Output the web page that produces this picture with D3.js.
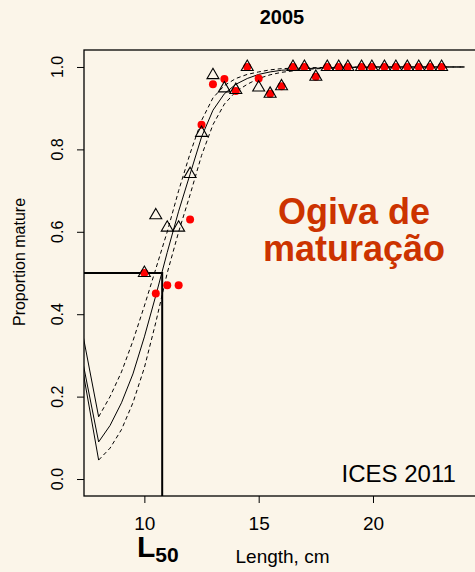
<!DOCTYPE html>
<html lang="pt">
<head>
<meta charset="utf-8">
<title>Ogiva de maturação 2005</title>
<script src="https://cdn.jsdelivr.net/npm/d3@7"></script>
<style>
  body { margin: 0; background: #fbf5e9; }
  text { font-family: "Liberation Sans", Arial, sans-serif; }
</style>
</head>
<body>
<script>
// observed proportions by length class (open triangles and red dots)
var triLen  = [10, 10.5, 11, 11.5, 12, 12.5, 13, 13.5, 14, 14.5, 15, 15.5, 16, 16.5, 17, 17.5, 18, 18.5, 18.9, 19.5, 19.95, 20.5, 21, 21.5, 22, 22.5, 23];
var triProp = [0.50, 0.64, 0.61, 0.61, 0.74, 0.84, 0.98, 0.948, 0.944, 1, 0.95, 0.935, 0.953, 1, 1, 0.976, 1, 1, 1, 1, 1, 1, 1, 1, 1, 1, 1];
var dotLen  = [10, 10.5, 11, 11.5, 12, 12.5, 13, 13.5, 14, 14.5, 15, 15.5, 16, 16.5, 17, 17.5, 18, 18.5, 18.9, 19.5, 19.95, 20.5, 21, 21.5, 22, 22.5, 23];
var dotProp = [0.50, 0.45, 0.47, 0.47, 0.63, 0.86, 0.958, 0.971, 0.942, 1, 0.972, 0.935, 0.953, 1, 1, 0.976, 1, 1, 1, 1, 1, 1, 1, 1, 1, 1, 1];

// fitted ogive and its confidence band
var fitLen = [7, 8, 8.5, 9, 9.5, 10, 10.5, 11, 11.5, 12, 12.5, 13, 13.5, 14, 14.5, 15, 15.5, 16, 17, 18, 19, 20, 21, 22, 23, 24];
var fitMid = [0.37, 0.09, 0.13, 0.185, 0.255, 0.345, 0.445, 0.55, 0.65, 0.74, 0.83, 0.895, 0.935, 0.958, 0.972, 0.982, 0.988, 0.992, 0.996, 0.998, 0.999, 1, 1, 1, 1, 1];
var fitUp  = [0.44, 0.151, 0.20, 0.26, 0.335, 0.42, 0.51, 0.60, 0.70, 0.79, 0.87, 0.925, 0.955, 0.972, 0.982, 0.988, 0.993, 0.996, 0.998, 0.999, 1, 1, 1, 1, 1, 1];
var fitLo  = [0.36, 0.046, 0.075, 0.12, 0.185, 0.27, 0.38, 0.50, 0.60, 0.69, 0.785, 0.86, 0.91, 0.94, 0.958, 0.972, 0.981, 0.987, 0.994, 0.997, 0.999, 0.9995, 1, 1, 1, 1];

var L50 = 10.78;
var xTicks = [10, 15, 20];
var yTicks = [0, 0.2, 0.4, 0.6, 0.8, 1.0];

var w = 475, h = 572;
var margin = {top: 50, left: 84, right: -5, bottom: 76};

var svg = d3.select("body").append("svg")
    .attr("width", w)
    .attr("height", h);

svg.append("rect").attr("width", w).attr("height", h).attr("fill", "#fbf5e9");

var x = d3.scaleLinear().domain([7.36, 24.68]).range([margin.left, w - margin.right]);
var y = d3.scaleLinear().domain([-0.0412, 1.0412]).range([h - margin.bottom, margin.top]);

svg.append("clipPath").attr("id", "plotclip")
  .append("rect")
    .attr("x", margin.left).attr("y", margin.top)
    .attr("width", w - margin.right - margin.left)
    .attr("height", h - margin.bottom - margin.top);

// title
svg.append("text")
    .attr("x", (margin.left + w - margin.right) / 2)
    .attr("y", 23.5)
    .attr("text-anchor", "middle")
    .attr("font-weight", "bold")
    .attr("font-size", 20)
    .text("2005");

// axes
var xaxis = d3.axisBottom(x).tickValues(xTicks).tickSize(7).tickPadding(14);
var gx = svg.append("g")
    .attr("transform", "translate(0," + (h - margin.bottom) + ")")
    .call(xaxis);
gx.select(".domain").remove();
gx.selectAll("text").attr("font-size", 19).attr("font-family", null).attr("fill", "#000");

var yaxis = d3.axisLeft(y).tickValues(yTicks).tickSize(7).tickFormat("");
var gy = svg.append("g")
    .attr("transform", "translate(" + margin.left + ",0)")
    .call(yaxis);
gy.select(".domain").remove();

svg.selectAll(".ylab")
    .data(yTicks)
    .enter().append("text")
    .attr("class", "ylab")
    .attr("transform", function(d) { return "translate(63," + y(d) + ") rotate(-90)"; })
    .attr("text-anchor", "middle")
    .attr("font-size", 16)
    .text(function(d) { return d3.format(".1f")(d); });

svg.append("text")
    .attr("transform", "translate(24.5,262) rotate(-90)")
    .attr("text-anchor", "middle")
    .attr("font-size", 16)
    .text("Proportion mature");

svg.append("text")
    .attr("x", 282.5)
    .attr("y", 563)
    .attr("text-anchor", "middle")
    .attr("font-size", 19)
    .text("Length, cm");

var l50 = svg.append("text")
    .attr("x", 137)
    .attr("y", 557)
    .attr("font-weight", "bold");
l50.append("tspan").attr("font-size", 30).text("L");
l50.append("tspan").attr("font-size", 21).attr("dy", 5).text("50");

// box
svg.append("rect")
    .attr("x", margin.left).attr("y", margin.top)
    .attr("width", w - margin.right - margin.left)
    .attr("height", h - margin.bottom - margin.top)
    .attr("fill", "none")
    .attr("stroke", "#000")
    .attr("stroke-width", 1.3);

var plot = svg.append("g").attr("clip-path", "url(#plotclip)");

// L50 guide lines
plot.append("path")
    .attr("d", d3.line()([[x.range()[0], y(0.5)], [x(L50), y(0.5)], [x(L50), y.range()[0]]]))
    .attr("fill", "none")
    .attr("stroke", "#000")
    .attr("stroke-width", 2);

// fitted curves: first (left) segment is drawn solid, the rest with the curve's style
var line = d3.line().x(function(d) { return x(d[0]); }).y(function(d) { return y(d[1]); });
function curve(vals, dash) {
  var pts = fitLen.map(function(d, i) { return [d, vals[i]]; });
  plot.append("path")
      .attr("d", line(pts.slice(0, 2)))
      .attr("fill", "none")
      .attr("stroke", "#000")
      .attr("stroke-width", 1);
  plot.append("path")
      .attr("d", line(pts.slice(1)))
      .attr("fill", "none")
      .attr("stroke", "#000")
      .attr("stroke-width", 1)
      .attr("stroke-dasharray", dash);
}
curve(fitUp, "4,3");
curve(fitLo, "4,3");
curve(fitMid, null);

// red dots
plot.selectAll(".dot")
    .data(dotLen)
    .enter().append("circle")
    .attr("class", "dot")
    .attr("cx", function(d) { return x(d); })
    .attr("cy", function(d, i) { return y(dotProp[i]); })
    .attr("r", 4)
    .attr("fill", "#ff0000");

// triangles
var tri = d3.symbol().type(d3.symbolTriangle).size(62);
plot.selectAll(".tri")
    .data(triLen)
    .enter().append("path")
    .attr("class", "tri")
    .attr("d", tri)
    .attr("transform", function(d, i) { return "translate(" + x(d) + "," + y(triProp[i]) + ")"; })
    .attr("fill", "none")
    .attr("stroke", "#000")
    .attr("stroke-width", 1.1);

svg.append("text")
    .attr("x", 341.5)
    .attr("y", 481.5)
    .attr("font-size", 24)
    .text("ICES 2011");

// overlay label
var og = svg.append("text")
    .attr("text-anchor", "middle")
    .attr("font-weight", "bold")
    .attr("font-size", 36)
    .attr("fill", "#cc3300");
og.append("tspan").attr("x", 354).attr("y", 223.5).text("Ogiva de");
og.append("tspan").attr("x", 354).attr("y", 261).text("maturação");
</script>
</body>
</html>
